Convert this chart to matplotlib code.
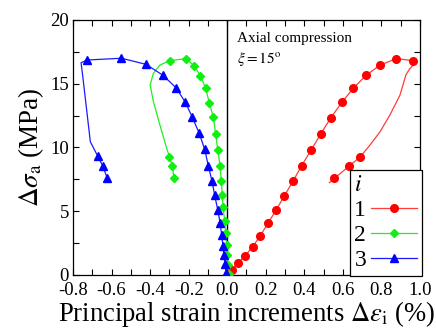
import matplotlib
matplotlib.use("Agg")
import matplotlib.pyplot as plt
from matplotlib.ticker import MultipleLocator, FuncFormatter
from matplotlib.lines import Line2D

plt.rcParams['font.family'] = ['Liberation Serif', 'DejaVu Serif']
plt.rcParams['mathtext.fontset'] = 'stix'

# Series i = 1 (red)
x1_load = [0.023, 0.054, 0.092, 0.132, 0.172, 0.212, 0.253, 0.296, 0.341, 0.386,
           0.435, 0.485, 0.538, 0.595, 0.654, 0.720, 0.794, 0.877, 0.962]
y1_load = [0.39, 0.92, 1.49, 2.22, 3.08, 4.08, 5.07, 6.20, 7.35, 8.57,
           9.80, 11.06, 12.34, 13.55, 14.64, 15.66, 16.47, 16.97, 16.81]
x1_bend = [0.974, 0.948, 0.927, 0.896, 0.844, 0.793, 0.741]
y1_bend = [16.60, 16.20, 15.70, 14.10, 12.55, 11.24, 10.20]
x1_unload = [0.689, 0.633, 0.556]
y1_unload = [9.25, 8.55, 7.58]
x1_tail = [0.530]
y1_tail = [7.24]

# Series i = 2 (green)
x2_load = [0.009, 0.006, -0.001, -0.003, -0.008, -0.013, -0.022, -0.025, -0.031, -0.037,
           -0.049, -0.060, -0.072, -0.093, -0.112, -0.139, -0.172, -0.215, -0.297]
y2_load = [0.08, 0.78, 1.55, 2.38, 3.27, 4.26, 5.31, 6.25, 7.37, 8.57,
           9.80, 11.06, 12.37, 13.52, 14.64, 15.63, 16.42, 16.97, 16.81]
x2_bend = [-0.349, -0.383, -0.400, -0.383, -0.349, -0.314]
y2_bend = [16.47, 15.82, 14.90, 13.60, 11.76, 9.94]
x2_unload = [-0.300, -0.285, -0.276]
y2_unload = [9.28, 8.55, 7.58]

# Series i = 3 (blue)
x3_load = [-0.006, -0.011, -0.017, -0.022, -0.029, -0.037, -0.049, -0.065, -0.079, -0.098,
           -0.117, -0.145, -0.181, -0.217, -0.266, -0.333, -0.421, -0.549, -0.726]
y3_load = [0.13, 0.84, 1.55, 2.30, 3.14, 4.10, 5.10, 6.25, 7.37, 8.57,
           9.86, 11.11, 12.37, 13.54, 14.69, 15.66, 16.52, 17.00, 16.86]
x3_bend = [-0.758, -0.749, -0.710]
y3_bend = [16.65, 15.55, 10.45]
x3_unload = [-0.672, -0.646, -0.622]
y3_unload = [9.33, 8.57, 7.58]

labels = ['1', '2', '3']

fig = plt.figure(figsize=(4.36, 3.33), dpi=100)
ax = fig.add_axes([0.1674, 0.1742, 0.7959, 0.7658])

def draw(xl, yl, xb, yb, xu, yu, xt, yt, lc, mc, mk, ms):
    lx = list(xl) + list(xb) + list(xu) + list(xt)
    ly = list(yl) + list(yb) + list(yu) + list(yt)
    ax.plot(lx, ly, color=lc, lw=0.9, zorder=2)
    ax.plot(list(xl) + list(xu), list(yl) + list(yu), ls='none', marker=mk,
            ms=ms, mfc=mc, mec=mc, zorder=3)
    return Line2D([], [], color=lc, lw=0.9, marker=mk, ms=ms, mfc=mc, mec=mc)

h1 = draw(x1_load, y1_load, x1_bend, y1_bend, x1_unload, y1_unload, x1_tail, y1_tail,
          '#ff3b3b', '#ff0000', 'o', 5.5)
h2 = draw(x2_load, y2_load, x2_bend, y2_bend, x2_unload, y2_unload, [], [],
          '#22ee22', '#11ee11', 'D', 4.5)
h3 = draw(x3_load, y3_load, x3_bend, y3_bend, x3_unload, y3_unload, [], [],
          '#1a1aff', '#0000ff', '^', 6.3)

ax.axvline(0, color='black', lw=1.0, zorder=1)

ax.set_xlim(-0.8, 1.0)
ax.set_ylim(0, 20)
ax.xaxis.set_major_locator(MultipleLocator(0.2))
ax.xaxis.set_minor_locator(MultipleLocator(0.1))
ax.yaxis.set_major_locator(MultipleLocator(5))
ax.yaxis.set_minor_locator(MultipleLocator(2.5))
ax.tick_params(which='both', direction='in', top=True, right=True, width=0.8)
ax.tick_params(which='major', length=4, labelsize=13.5, pad=3)
ax.tick_params(axis='x', which='major', pad=5)
ax.tick_params(which='minor', length=4)
ax.xaxis.set_major_formatter(FuncFormatter(lambda v, p: f'{v:.1f}'.replace('-0.0', '0.0')))
for s in ax.spines.values():
    s.set_linewidth(0.9)

ax.set_xlabel(r'Principal strain increments $\Delta\varepsilon_\mathrm{i}$ (%)', fontsize=19.2, labelpad=0)
ax.set_ylabel(r'$\Delta\sigma_\mathrm{a}$ (MPa)', fontsize=19.5, labelpad=3)

ax.text(0.472, 0.915, 'Axial compression', transform=ax.transAxes, fontsize=11,
        ha='left', va='baseline')
ax.text(0.472, 0.831, r'$\xi = 15^\mathrm{o}$', transform=ax.transAxes, fontsize=11,
        ha='left', va='baseline')

leg = ax.legend([h1, h2, h3], labels, loc='lower right', bbox_to_anchor=(1.005, -0.003),
                markerfirst=False, title='$i$', title_fontsize=17, fontsize=17,
                frameon=True, fancybox=False, edgecolor='black', framealpha=1,
                borderaxespad=0, handlelength=1.95, handletextpad=0.2,
                labelspacing=0.15, borderpad=0.2)
leg._legend_box.align = 'left'
leg.get_frame().set_linewidth(0.9)

fig.savefig('out.png', dpi=100)
